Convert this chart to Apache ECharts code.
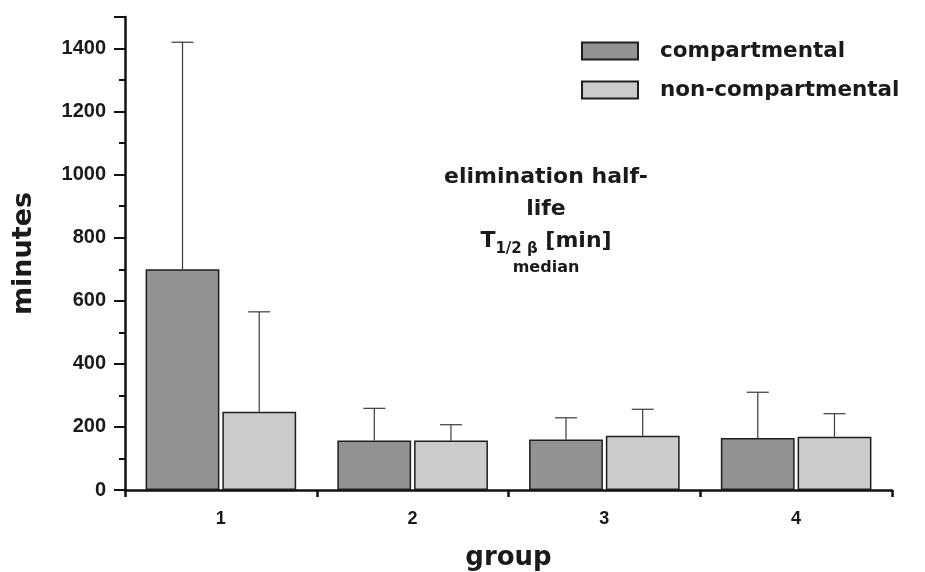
<!DOCTYPE html>
<html>
<head>
<meta charset="utf-8">
<script src="https://cdn.jsdelivr.net/npm/echarts@6/dist/echarts.min.js"></script>
<style>
html, body { margin: 0; padding: 0; background: #fff; }
#main { width: 925px; height: 572px; }
</style>
</head>
<body>
<div id="main"></div>
<script>
var groups = ['1', '2', '3', '4'];
var compMedian = [700, 157, 160, 165];
var compUpper = [1420, 259, 229, 310];
var nonCompMedian = [248, 157, 172, 169];
var nonCompUpper = [565, 207, 256, 242];
var yTicks = [0, 200, 400, 600, 800, 1000, 1200, 1400];

var FONT = '"Liberation Sans", Arial, sans-serif';
var WIDE = '"DejaVu Sans", sans-serif';

function errData(med, up) {
	return med.map(function(v, i) {
		return [i, v, up[i]];
	});
}

// whisker drawn from bar top up to the upper value, shifted onto its bar
function makeErr(shift) {
	return function(params, api) {
		var band = api.size([1, 0])[0];
		var dx = band * shift;
		var lo = api.coord([api.value(0), api.value(1)]);
		var hi = api.coord([api.value(0), api.value(2)]);
		var x = lo[0] + dx;
		var cap = 11;
		var st = { stroke: '#3a3a3a', lineWidth: 1.2 };
		return {
			type: 'group',
			children: [
				{ type: 'line', shape: { x1: x, y1: lo[1], x2: x, y2: hi[1] }, style: st },
				{ type: 'line', shape: { x1: x - cap, y1: hi[1], x2: x + cap, y2: hi[1] }, style: st }
			]
		};
	};
}

var myChart = echarts.init(document.getElementById('main'));
var option = {
	animation: false,
	backgroundColor: '#fff',
	grid: { left: 125, right: 33, top: 17, bottom: 82, containLabel: false, outerBoundsMode: 'none' },
	legend: {
		orient: 'vertical',
		left: 576,
		top: 35,
		itemWidth: 56,
		itemHeight: 17,
		itemGap: 17,
		icon: 'rect',
		data: ['compartmental', 'non-compartmental'],
		textStyle: { fontFamily: WIDE, fontWeight: 'bold', fontSize: 21.5, color: '#1a1a1a', padding: [0, 0, 0, 17] }
	},
	xAxis: {
		type: 'category',
		data: groups,
		name: 'group',
		nameLocation: 'middle',
		nameGap: 55,
		nameTextStyle: { fontFamily: WIDE, fontWeight: 'bold', fontSize: 26, color: '#1a1a1a' },
		axisLine: { lineStyle: { color: '#111', width: 2.5 } },
		axisTick: { show: true, length: 7, lineStyle: { color: '#111', width: 2.5 } },
		axisLabel: { margin: 20, fontFamily: FONT, fontWeight: 'bold', fontSize: 18, color: '#1a1a1a' }
	},
	yAxis: {
		type: 'value',
		min: 0,
		max: 1500,
		interval: 200,
		name: 'minutes',
		nameLocation: 'middle',
		nameRotate: 90,
		nameGap: 88,
		nameTextStyle: { fontFamily: WIDE, fontWeight: 'bold', fontSize: 27, color: '#1a1a1a' },
		splitLine: { show: false },
		axisLine: { show: true, lineStyle: { color: '#111', width: 2.5 } },
		axisTick: { show: true, length: 11, lineStyle: { color: '#111', width: 2 } },
		minorTick: { show: true, splitNumber: 2, length: 6, lineStyle: { color: '#111', width: 2 } },
		axisLabel: {
			margin: 19,
			fontFamily: FONT,
			fontWeight: 'bold',
			fontSize: 20,
			color: '#1a1a1a',
			showMaxLabel: false,
			formatter: function(v) {
				return yTicks.indexOf(v) >= 0 ? String(v) : '';
			}
		}
	},
	graphic: [{
		type: 'text',
		x: 546,
		y: 161,
		style: {
			text: 'elimination half-\nlife\n{t|T}{sub|1/2 β} {t|[min]}\n{m|median}',
			align: 'center',
			fontFamily: WIDE,
			fontWeight: 'bold',
			fontSize: 22,
			lineHeight: 32,
			fill: '#1a1a1a',
			rich: {
				t: { fontFamily: WIDE, fontWeight: 'bold', fontSize: 22, lineHeight: 32 },
				sub: { fontFamily: WIDE, fontWeight: 'bold', fontSize: 15, verticalAlign: 'bottom', padding: [10, 0, 0, 0] },
				m: { fontFamily: WIDE, fontWeight: 'bold', fontSize: 16, lineHeight: 22 }
			}
		}
	}],
	series: [{
			name: 'compartmental',
			type: 'bar',
			data: compMedian,
			barWidth: '38.5%',
			barGap: '4%',
			itemStyle: { color: '#929293', borderColor: '#1e1e1e', borderWidth: 1.5 }
		},
		{
			name: 'non-compartmental',
			type: 'bar',
			data: nonCompMedian,
			barWidth: '38.5%',
			barGap: '4%',
			itemStyle: { color: '#cacbcc', borderColor: '#1e1e1e', borderWidth: 1.5 }
		},
		{
			type: 'custom',
			renderItem: makeErr(-0.2),
			data: errData(compMedian, compUpper),
			encode: { x: 0, y: [1, 2] },
			z: 3
		},
		{
			type: 'custom',
			renderItem: makeErr(0.2),
			data: errData(nonCompMedian, nonCompUpper),
			encode: { x: 0, y: [1, 2] },
			z: 3
		}
	]
};

myChart.setOption(option);
</script>
</body>
</html>
